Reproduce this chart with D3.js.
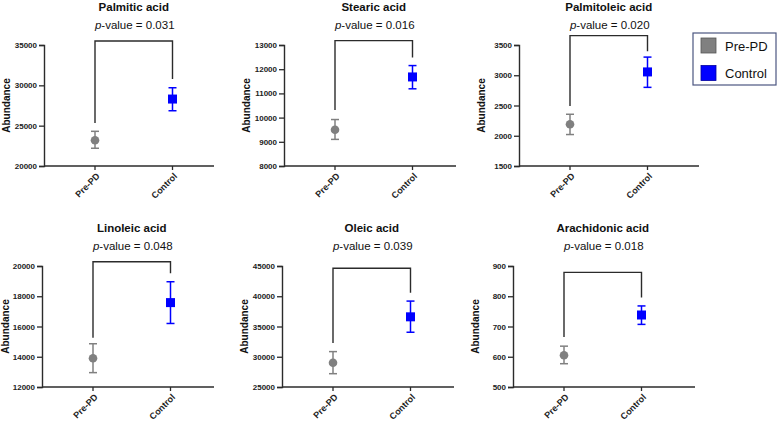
<!DOCTYPE html>
<html>
<head>
<meta charset="utf-8">
<script src="https://cdn.jsdelivr.net/npm/d3@7"></script>
<style>
  body { margin: 0; background: #fff; }
  svg { display: block; font-family: "Liberation Sans", Arial, sans-serif; }
</style>
</head>
<body>
<svg id="chart" width="778" height="421"></svg>
<script>
// values
var acids = ["Palmitic acid", "Stearic acid", "Palmitoleic acid", "Linoleic acid", "Oleic acid", "Arachidonic acid"];
var pValues = ["0.031", "0.016", "0.020", "0.048", "0.039", "0.018"];
var groups = ["Pre-PD", "Control"];

var preMean  = [23200, 9500, 2190, 13900, 29000, 605];
var preLow   = [22200, 9100, 2020, 12950, 27200, 577];
var preHigh  = [24300, 9920, 2355, 14860, 30850, 635];
var ctrlMean = [28300, 11680, 3055, 17580, 36600, 738];
var ctrlLow  = [26850, 11190, 2800, 16200, 34050, 707];
var ctrlHigh = [29700, 12150, 3300, 18960, 39200, 768];

var yMin  = [20000, 8000, 1500, 12000, 25000, 500];
var yMax  = [35000, 13000, 3500, 20000, 45000, 900];
var yStep = [5000, 1000, 500, 2000, 5000, 100];

// significance bracket (in data units)
var bracketTop   = [35500, 13180, 3655, 20285, 44620, 879];
var bracketLeft  = [25330, 10310, 2490, 15250, 32290, 665];
var bracketRight = [30780, 12485, 3395, 19515, 40580, 796];

var grey = "#808080", blue = "#0000ff", ink = "#2b2b2b";

// panel layout
var axisX   = [44, 284, 519, 42, 282, 513];
var axisTop = [45, 45, 45, 266, 266, 266];
var axisLen = [170, 172, 180, 172, 172, 182];
var plotH = 121;

var svg = d3.select("#chart");

acids.forEach(function (name, i) {
  var g = svg.append("g");
  var x0 = axisX[i], y0 = axisTop[i];

  var y = d3.scaleLinear().domain([yMin[i], yMax[i]]).range([y0 + plotH, y0]);
  var x = d3.scalePoint().domain(groups).range([x0 + 51, x0 + 128.5]);

  var ticks = d3.range(yMin[i], yMax[i] + yStep[i] / 2, yStep[i]);

  // y axis
  var ya = g.append("g")
    .attr("transform", "translate(" + x0 + ",0)")
    .call(d3.axisLeft(y).tickValues(ticks).tickSize(5).tickPadding(2).tickFormat(d3.format("d")));
  ya.select(".domain").attr("stroke", ink).attr("stroke-width", 1.4);
  ya.selectAll(".tick line").attr("stroke", ink).attr("stroke-width", 1.3);
  ya.selectAll(".tick text")
    .attr("fill", "#222").attr("font-size", "8px").attr("font-weight", "bold")
    .attr("font-family", "Liberation Sans, Arial, sans-serif");

  // x axis
  var xa = g.append("g")
    .attr("transform", "translate(0," + (y0 + plotH) + ")");
  xa.append("line")
    .attr("x1", x0).attr("x2", x0 + axisLen[i])
    .attr("stroke", ink).attr("stroke-width", 1.4);
  groups.forEach(function (gr) {
    xa.append("line")
      .attr("x1", x(gr)).attr("x2", x(gr)).attr("y1", 0).attr("y2", 4)
      .attr("stroke", ink).attr("stroke-width", 1.3);
    xa.append("text")
      .attr("transform", "translate(" + (x(gr) + 3) + ",8.5) rotate(-45)")
      .attr("text-anchor", "end")
      .attr("dy", "0.35em")
      .attr("font-size", "9px").attr("font-weight", "bold").attr("fill", "#222")
      .text(gr);
  });

  // y label
  g.append("text")
    .attr("transform", "translate(" + Math.max(x0 - 34, 9) + "," + (y0 + plotH / 2) + ") rotate(-90)")
    .attr("text-anchor", "middle")
    .attr("font-size", "10px").attr("font-weight", "bold").attr("fill", "#111")
    .text("Abundance");

  // titles
  var mid = (x(groups[0]) + x(groups[1])) / 2;
  g.append("text")
    .attr("x", mid).attr("y", y0 - 34)
    .attr("text-anchor", "middle")
    .attr("font-size", "11.5px").attr("font-weight", "bold").attr("fill", "#111")
    .text(name);
  var pt = g.append("text")
    .attr("x", mid + 1).attr("y", y0 - 16)
    .attr("text-anchor", "middle")
    .attr("font-size", "11.5px").attr("fill", "#111");
  pt.append("tspan").attr("font-style", "italic").text("p");
  pt.append("tspan").text("-value = " + pValues[i]);

  // bracket
  g.append("path")
    .attr("d", "M" + x(groups[0]) + "," + y(bracketLeft[i]) +
               "V" + y(bracketTop[i]) +
               "H" + x(groups[1]) +
               "V" + y(bracketRight[i]))
    .attr("fill", "none").attr("stroke", ink).attr("stroke-width", 1.4);

  // error bars + markers
  var stats = [
    { grp: "Pre-PD", mean: preMean[i], lo: preLow[i], hi: preHigh[i], color: grey },
    { grp: "Control", mean: ctrlMean[i], lo: ctrlLow[i], hi: ctrlHigh[i], color: blue }
  ];
  stats.forEach(function (s) {
    var cx = x(s.grp);
    g.append("line")
      .attr("x1", cx).attr("x2", cx).attr("y1", y(s.lo)).attr("y2", y(s.hi))
      .attr("stroke", s.color).attr("stroke-width", 1.5);
    [s.lo, s.hi].forEach(function (v) {
      g.append("line")
        .attr("x1", cx - 4).attr("x2", cx + 4).attr("y1", y(v)).attr("y2", y(v))
        .attr("stroke", s.color).attr("stroke-width", 1.5);
    });
    if (s.grp === "Pre-PD") {
      g.append("circle")
        .attr("cx", cx).attr("cy", y(s.mean)).attr("r", 4.3)
        .attr("fill", s.color);
    } else {
      g.append("rect")
        .attr("x", cx - 4.5).attr("y", y(s.mean) - 4.5)
        .attr("width", 9).attr("height", 9)
        .attr("fill", s.color);
    }
  });
});

// legend
var leg = svg.append("g");
leg.append("rect")
  .attr("x", 693).attr("y", 33).attr("width", 83).attr("height", 52)
  .attr("fill", "#fff").attr("stroke", "#4b5680").attr("stroke-width", 1.2);
[{ label: "Pre-PD", color: grey, edge: "#555" }, { label: "Control", color: blue, edge: "#0000a0" }].forEach(function (d, k) {
  leg.append("rect")
    .attr("x", 701).attr("y", 38 + k * 27.5).attr("width", 15).attr("height", 15)
    .attr("fill", d.color).attr("stroke", d.edge).attr("stroke-width", 0.8);
  leg.append("text")
    .attr("x", 725).attr("y", 50.5 + k * 27.5)
    .attr("font-size", "13px").attr("fill", "#111")
    .text(d.label);
});
</script>
</body>
</html>
